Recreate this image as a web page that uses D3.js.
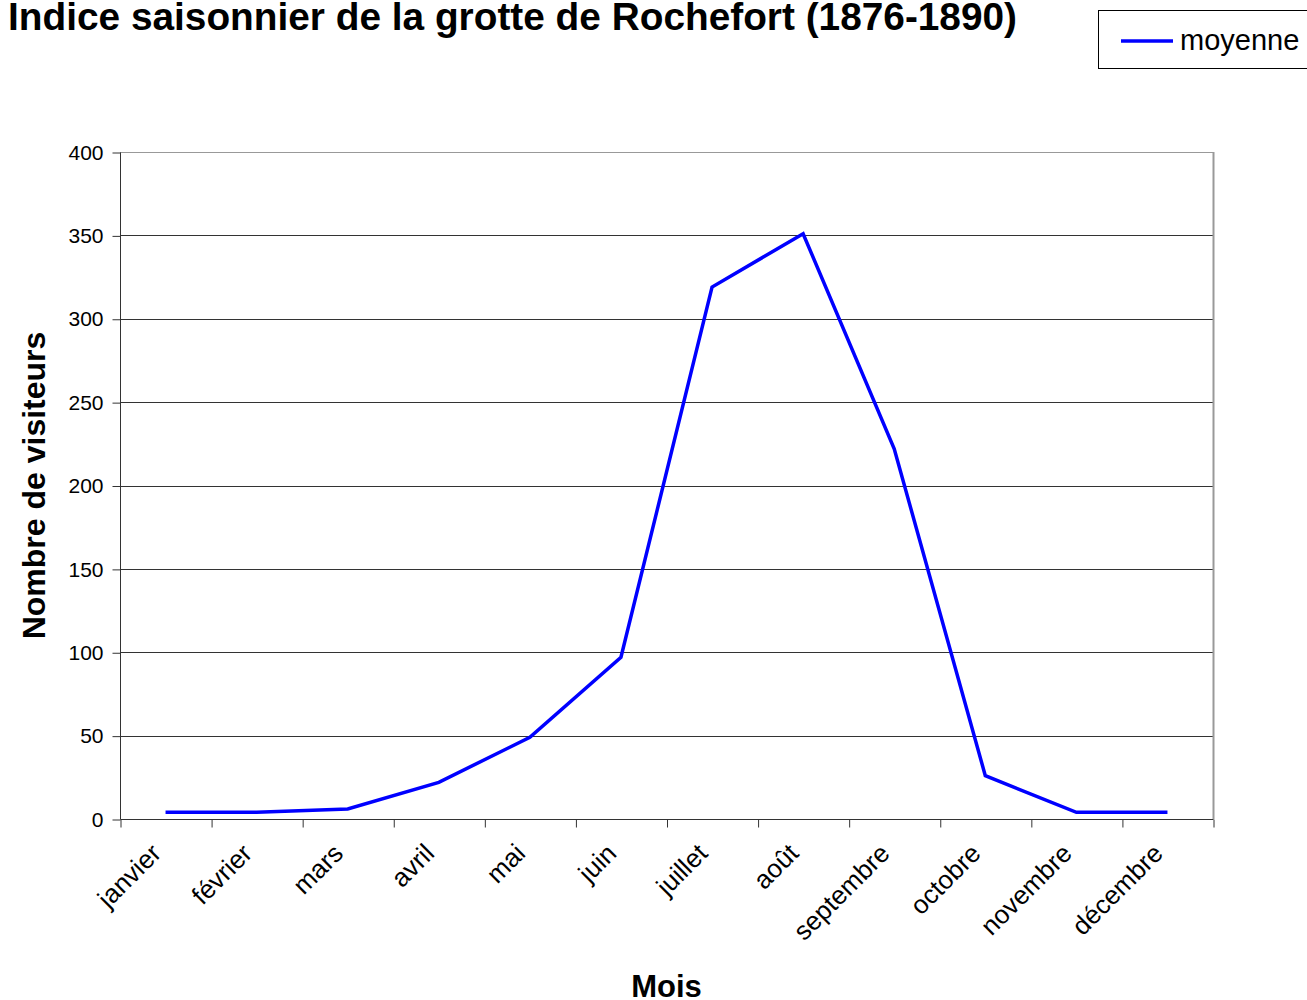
<!DOCTYPE html>
<html>
<head>
<meta charset="utf-8">
<script src="https://cdn.jsdelivr.net/npm/d3@7"></script>
<style>
  body { margin: 0; background: #fff; }
  svg { display: block; font-family: "Liberation Sans", Arial, sans-serif; }
</style>
</head>
<body>
<svg id="chart" width="1307" height="1000"></svg>
<script>
// data
var mois = ["janvier", "février", "mars", "avril", "mai", "juin", "juillet", "août",
            "septembre", "octobre", "novembre", "décembre"];
var moyenne = [4, 4, 6, 22, 49, 97, 319, 351, 222, 26, 4, 4];
var yTicks = [0, 50, 100, 150, 200, 250, 300, 350, 400];

var svg = d3.select("#chart");
var pLeft = 120, pRight = 1213, pTop = 152, pBottom = 819;

var x = d3.scaleBand().domain(mois).range([pLeft, pRight]);
var xEdge = d3.scaleLinear().domain([0, mois.length]).range([pLeft, pRight]);
var y = d3.scaleLinear().domain([0, 400]).range([pBottom, pTop]);

// gridlines
svg.append("g")
  .selectAll("line")
  .data(yTicks.slice(1))
  .enter().append("line")
  .attr("x1", pLeft).attr("x2", pRight)
  .attr("y1", function(d) { return Math.round(y(d)) + 0.5; })
  .attr("y2", function(d) { return Math.round(y(d)) + 0.5; })
  .attr("stroke", function(d) { return d == 400 ? "#999" : "#333"; })
  .attr("stroke-width", 1);

// right border
svg.append("line")
  .attr("x1", pRight + 0.5).attr("x2", pRight + 0.5)
  .attr("y1", pTop).attr("y2", pBottom)
  .attr("stroke", "#999").attr("stroke-width", 2);

// y axis
var yAxis = svg.append("g")
  .attr("transform", "translate(" + (pLeft + 0.5) + ",0.5)")
  .call(d3.axisLeft(y).tickValues(yTicks).tickSize(8).tickPadding(9));
yAxis.select(".domain").attr("stroke", "#333").attr("d", "M0," + pTop + "V" + pBottom);
yAxis.selectAll(".tick line").attr("stroke", "#333");
yAxis.selectAll("text").attr("font-size", 21).attr("fill", "#000")
  .attr("font-family", "Liberation Sans, Arial, sans-serif");

// x axis: ticks on category edges
var xTickAxis = svg.append("g")
  .attr("transform", "translate(0.5," + (pBottom + 0.5) + ")")
  .call(d3.axisBottom(xEdge).ticks(mois.length).tickSize(8).tickFormat(""));
xTickAxis.select(".domain").attr("stroke", "#333").attr("d", "M" + pLeft + ",0H" + pRight);
xTickAxis.selectAll(".tick line").attr("stroke", "#333");

// x labels
svg.append("g")
  .selectAll("text")
  .data(mois)
  .enter().append("text")
  .attr("transform", function(d) {
    return "translate(" + (x(d) + x.bandwidth() / 2 - 3) + "," + (pBottom + 36) + ") rotate(-45)";
  })
  .attr("text-anchor", "end")
  .attr("font-size", 26)
  .text(function(d) { return d; });

// line
var line = d3.line()
  .x(function(d, i) { return x(mois[i]) + x.bandwidth() / 2; })
  .y(function(d) { return y(d); });

svg.append("path")
  .datum(moyenne)
  .attr("d", line)
  .attr("fill", "none")
  .attr("stroke", "#0000ff")
  .attr("stroke-width", 3.5)
  .attr("stroke-linejoin", "miter");

// titles
svg.append("text")
  .attr("x", 8).attr("y", 30)
  .attr("font-size", 38.8).attr("font-weight", "bold")
  .text("Indice saisonnier de la grotte de Rochefort (1876-1890)");

svg.append("text")
  .attr("x", (pLeft + pRight) / 2).attr("y", 997)
  .attr("text-anchor", "middle")
  .attr("font-size", 31).attr("font-weight", "bold")
  .text("Mois");

svg.append("text")
  .attr("transform", "translate(45," + ((pTop + pBottom) / 2) + ") rotate(-90)")
  .attr("text-anchor", "middle")
  .attr("font-size", 32).attr("font-weight", "bold")
  .text("Nombre de visiteurs");

// legend
var legend = svg.append("g");
legend.append("rect")
  .attr("x", 1098.5).attr("y", 10.5)
  .attr("width", 220).attr("height", 58)
  .attr("fill", "#fff").attr("stroke", "#000");
legend.append("line")
  .attr("x1", 1121).attr("x2", 1173)
  .attr("y1", 41).attr("y2", 41)
  .attr("stroke", "#0000ff").attr("stroke-width", 3.5);
legend.append("text")
  .attr("x", 1180).attr("y", 50)
  .attr("font-size", 29)
  .text("moyenne");
</script>
</body>
</html>
